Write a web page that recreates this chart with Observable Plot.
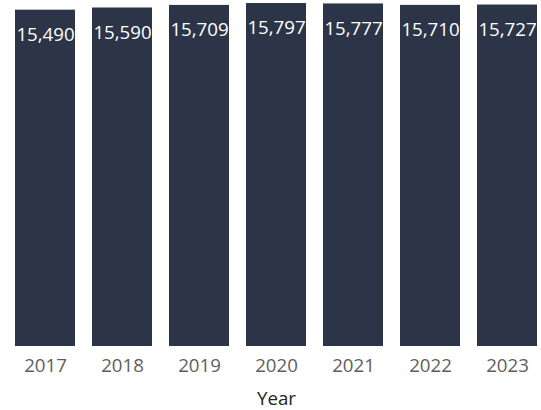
<!DOCTYPE html>
<html>
<head>
<meta charset="utf-8">
<script src="https://cdn.jsdelivr.net/npm/d3@7"></script>
<script src="https://cdn.jsdelivr.net/npm/@observablehq/plot@0.6"></script>
<style>
  html, body { margin: 0; padding: 0; background: #fff; }
  #chart svg { display: block; font-family: "Open Sans", sans-serif; }
  #chart [aria-label="x-axis tick label"] text { fill: #605e5c; }
  #chart [aria-label="x-axis label"] text { fill: #252423; }
</style>
</head>
<body>
<div id="chart"></div>
<script>
const years = ["2017", "2018", "2019", "2020", "2021", "2022", "2023"];
const values = [15490, 15590, 15709, 15797, 15777, 15710, 15727];

const data = years.map((year, i) => ({ year, value: values[i] }));

const chart = Plot.plot({
  width: 541,
  height: 410,
  marginLeft: 12,
  marginRight: 1,
  marginTop: 3,
  marginBottom: 64,
  style: { fontFamily: "Open Sans, sans-serif", background: "#fff" },
  x: { domain: years, paddingInner: 0.22, paddingOuter: 0 },
  y: { domain: [0, d3.max(values)], axis: null },
  marks: [
    Plot.barY(data, { x: "year", y: "value", fill: "#2c3447" }),
    Plot.text(data, {
      x: "year",
      y: "value",
      text: d => d3.format(",")(d.value),
      fill: "white",
      fontSize: 18.7,
      dy: 25
    }),
    Plot.axisX({
      tickSize: 0,
      tickPadding: 12,
      fontSize: 18.7,
      label: "Year",
      labelAnchor: "center",
      labelArrow: "none",
      labelOffset: 58
    })
  ]
});
document.getElementById("chart").appendChild(chart);
</script>
</body>
</html>
